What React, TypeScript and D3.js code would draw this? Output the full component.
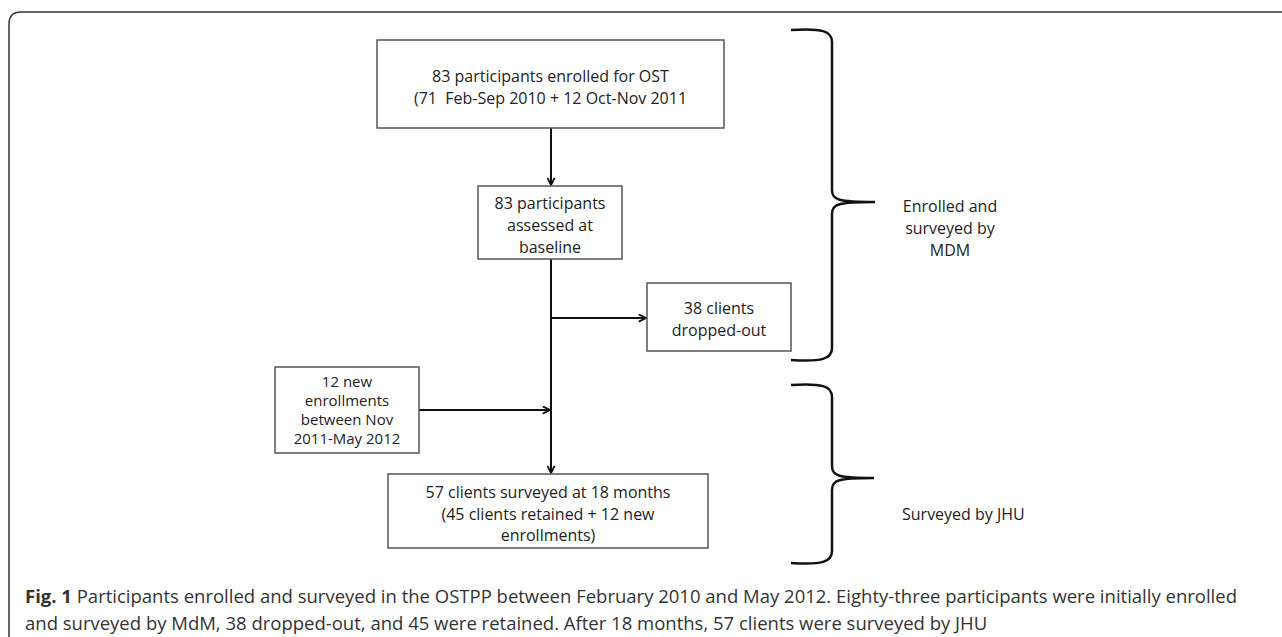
import React from 'react';
import * as d3 from 'd3';

// box texts
const enrolledLines = ['83 participants enrolled for OST', '(71  Feb-Sep 2010 + 12 Oct-Nov 2011'];
const baselineLines = ['83 participants', 'assessed at', 'baseline'];
const droppedLines = ['38 clients', 'dropped-out'];
const newLines = ['12 new', 'enrollments', 'between Nov', '2011-May 2012'];
const surveyedLines = ['57 clients surveyed at 18 months', '(45 clients retained + 12 new', 'enrollments)'];
const braceLabels = [['Enrolled and', 'surveyed by', 'MDM'], ['Surveyed by JHU']];
const captionLines = [
  'Participants enrolled and surveyed in the OSTPP between February 2010 and May 2012. Eighty-three participants were initially enrolled',
  'and surveyed by MdM, 38 dropped-out, and 45 were retained. After 18 months, 57 clients were surveyed by JHU'
];

const W = 1282;
const H = 637;

interface Box { x0: number; x1: number; y0: number; y1: number; lines: string[]; top: number; gap: number; size: number }

const boxes: Box[] = [
  { x0: 377, x1: 724, y0: 40, y1: 128, lines: enrolledLines, top: 76, gap: 22, size: 16 },
  { x0: 478, x1: 622, y0: 186, y1: 259, lines: baselineLines, top: 203, gap: 22, size: 16 },
  { x0: 647, x1: 791, y0: 283, y1: 351, lines: droppedLines, top: 308, gap: 22, size: 16 },
  { x0: 275, x1: 419, y0: 367, y1: 453, lines: newLines, top: 381, gap: 19, size: 15 },
  { x0: 388, x1: 708, y0: 474, y1: 548, lines: surveyedLines, top: 492, gap: 21.5, size: 16 },
];

const boxFont = 'Open Sans, Noto Sans, sans-serif';

const brace = (x0: number, xm: number, xt: number, y0: number, ym: number, y1: number) => {
  const p = d3.path();
  p.moveTo(x0, y0);
  p.bezierCurveTo(xm - 10, y0 - 2, xm, y0 + 1, xm, y0 + 12);
  p.lineTo(xm, ym - 12);
  p.bezierCurveTo(xm, ym - 2, xm + 6, ym, xt, ym);
  p.moveTo(xt, ym);
  p.bezierCurveTo(xm + 6, ym, xm, ym + 2, xm, ym + 12);
  p.lineTo(xm, y1 - 12);
  p.bezierCurveTo(xm, y1 - 1, xm - 10, y1 + 2, x0, y1);
  return p.toString();
};

const App: React.FC = () => {
  const cx = 551;
  const line = d3.line();
  const connectors: [number, number][][] = [
    [[cx, 128], [cx, 185]],
    [[cx, 259], [cx, 473]],
    [[cx, 318], [646, 318]],
    [[419, 410], [550, 410]],
  ];
  return (
    <svg width={W} height={H} style={{ position: 'absolute', left: 0, top: 0, background: '#fff' }}>
      <defs>
        <marker id="arr" viewBox="0 0 10 10" refX="9" refY="5" markerWidth="9" markerHeight="9"
          markerUnits="userSpaceOnUse" orient="auto">
          <path d="M1,1 L9,5 L1,9" fill="none" stroke="#111" strokeWidth={2} />
        </marker>
      </defs>
      <path d={`M9,${H} L9,24 Q9,12 21,12 L${W},12`} fill="none" stroke="#333" strokeWidth={1.5} />
      {connectors.map((c, i) => (
        <path key={i} d={line(c) || ''} stroke="#111" strokeWidth={2} fill="none" markerEnd="url(#arr)" />
      ))}
      {boxes.map((b, i) => {
        const mx = (b.x0 + b.x1) / 2;
        return (
          <g key={i}>
            <rect x={b.x0} y={b.y0} width={b.x1 - b.x0} height={b.y1 - b.y0} fill="#fff" stroke="#555" strokeWidth={1.5} />
            {b.lines.map((t, j) => (
              <text key={j} x={mx} y={b.top + j * b.gap} textAnchor="middle" dominantBaseline="central"
                fontFamily={boxFont} fontSize={b.size} fill="#222" style={{ whiteSpace: 'pre' }}>{t}</text>
            ))}
          </g>
        );
      })}
      <path d={brace(791, 832, 875, 30, 202, 360)} fill="none" stroke="#111" strokeWidth={2.5} />
      <path d={brace(791, 832, 874, 385, 478, 563)} fill="none" stroke="#111" strokeWidth={2.5} />
      {braceLabels[0].map((t, j) => (
        <text key={j} x={950} y={206 + j * 22} textAnchor="middle" dominantBaseline="central"
          fontFamily={boxFont} fontSize={16} fill="#222">{t}</text>
      ))}
      <text x={902} y={514} dominantBaseline="central" fontFamily={boxFont} fontSize={16} fill="#222">{braceLabels[1][0]}</text>
      <text x={25} y={595} dominantBaseline="central" fontFamily={boxFont} fontSize={18.5} fill="#333">
        <tspan fontWeight="bold">Fig. 1</tspan> {captionLines[0]}
      </text>
      <text x={25} y={622} dominantBaseline="central" fontFamily={boxFont} fontSize={18.5} fill="#333">{captionLines[1]}</text>
    </svg>
  );
};

export default App;
